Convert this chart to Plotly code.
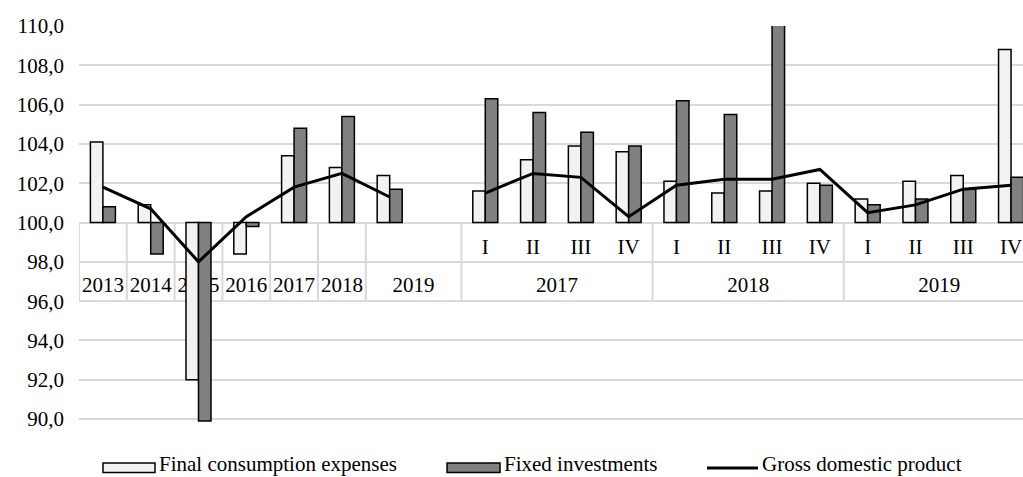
import plotly.graph_objects as go

# Annual data (previous year = 100)
years = ["2013", "2014", "2015", "2016", "2017", "2018", "2019"]
fce_year = [104.1, 100.9, 92.0, 98.4, 103.4, 102.8, 102.4]
inv_year = [100.8, 98.4, 89.9, 99.8, 104.8, 105.4, 101.7]
gdp_year = [101.8, 100.7, 98.0, 100.3, 101.8, 102.5, 101.3]

# Quarterly data (same quarter of previous year = 100)
quarters = ["I", "II", "III", "IV"]
q_years = ["2017", "2018", "2019"]
fce_q = [101.6, 103.2, 103.9, 103.6, 102.1, 101.5, 101.6, 102.0, 101.2, 102.1, 102.4, 108.8]
inv_q = [106.3, 105.6, 104.6, 103.9, 106.2, 105.5, 111.5, 101.9, 100.9, 101.2, 101.7, 102.3]
gdp_q = [101.5, 102.5, 102.3, 100.3, 101.9, 102.2, 102.2, 102.7, 100.5, 100.9, 101.7, 101.9]

BASE = 100
FONT = "Liberation Serif"
GRID = "#d9d9d9"

# category ids: annual, one empty slot, then quarters
cats = years + ["2019 "] + [y + "-" + q for y in q_years for q in quarters]

# groups for the two-row label table (label, first index, last index)
groups = []
for i, y in enumerate(years):
    groups.append((y, i, i))
groups[-1] = ("2019", len(years) - 1, len(years))  # 2019 spans the empty slot
start = len(years) + 1
for k, y in enumerate(q_years):
    groups.append((y, start + 4 * k, start + 4 * k + 3))

fce = [v - BASE for v in fce_year] + [None] + [v - BASE for v in fce_q]
inv = [v - BASE for v in inv_year] + [None] + [v - BASE for v in inv_q]
gdp = gdp_year + [None] + gdp_q

fig = go.Figure()
fig.add_trace(go.Bar(x=cats, y=fce, base=BASE, name="Final consumption expenses",
                     marker=dict(color="#f2f2f2", line=dict(color="black", width=1.5))))
fig.add_trace(go.Bar(x=cats, y=inv, base=BASE, name="Fixed investments",
                     marker=dict(color="#808080", line=dict(color="black", width=1.5))))
fig.add_trace(go.Scatter(x=cats, y=gdp, name="Gross domestic product", mode="lines",
                         line=dict(color="black", width=3), connectgaps=False))

shapes = []
# vertical dividers of the label table
edges = sorted({g[1] - 0.5 for g in groups} | {g[2] + 0.5 for g in groups})
for e in edges:
    shapes.append(dict(type="line", xref="x", yref="y", x0=e, x1=e, y0=96, y1=100,
                       line=dict(color=GRID, width=2), layer="below"))

lab_font = dict(family=FONT, size=21, color="black")
# quarter labels (upper row)
for i, c in enumerate(cats):
    if "-" in c:
        shapes.append(dict(type="line", xref="x", yref="y", x0=i - 0.4, x1=i + 0.4,
                           y0=98.86, y1=98.86, line=dict(width=0, color="rgba(0,0,0,0)"),
                           layer="below",
                           label=dict(text=c.split("-")[1], font=lab_font,
                                      textposition="middle", yanchor="middle")))
# year labels (lower row)
for lab, a, b in groups:
    mid = (a + b) / 2
    shapes.append(dict(type="line", xref="x", yref="y", x0=mid - 0.4, x1=mid + 0.4,
                       y0=96.9, y1=96.9, line=dict(width=0, color="rgba(0,0,0,0)"),
                       layer="below",
                       label=dict(text=lab, font=lab_font,
                                  textposition="middle", yanchor="middle")))

# hand-made legend (wide swatches like the original)
W, H, L, T = 1023, 477, 79, 26
PW, PH = W - L, 399


def px(xp):
    return (xp - L) / PW


def py(yp):
    return (T + PH - yp) / PH


annotations = []
legend_items = [
    ("Final consumption expenses", "rect", "#f2f2f2", 103, 155),
    ("Fixed investments", "rect", "#808080", 447, 500),
    ("Gross domestic product", "line", "black", 707, 758),
]
for name, kind, col, x0, x1 in legend_items:
    if kind == "rect":
        shapes.append(dict(type="rect", xref="paper", yref="paper",
                           x0=px(x0), x1=px(x1), y0=py(472.5), y1=py(463),
                           fillcolor=col, line=dict(color="black", width=1.5)))
    else:
        shapes.append(dict(type="line", xref="paper", yref="paper",
                           x0=px(x0), x1=px(x1), y0=py(468), y1=py(468),
                           line=dict(color=col, width=3)))
    annotations.append(dict(text=name, xref="paper", yref="paper", x=px(x1 + 3), y=py(476.5),
                            xanchor="left", yanchor="bottom", showarrow=False,
                            borderpad=0,
                            font=dict(family=FONT, size=21, color="black")))

fig.update_layout(
    width=W, height=H,
    margin=dict(l=L, r=0, t=T, b=H - T - PH),
    paper_bgcolor="white", plot_bgcolor="white",
    barmode="group", bargap=0.477, bargroupgap=0,
    separators=", ",
    showlegend=False,
    font=dict(family=FONT, size=21, color="black"),
    shapes=shapes, annotations=annotations,
)
fig.update_xaxes(type="category", range=[-0.5, len(cats) - 0.75], showticklabels=False,
                 showgrid=False, zeroline=False, showline=False, ticks="")
fig.update_yaxes(range=[89.7, 110], tickvals=list(range(90, 111, 2)), tickformat=".1f",
                 showgrid=True, gridcolor=GRID, gridwidth=2, zeroline=False,
                 showline=False, ticks="", ticklabelstandoff=14,
                 tickfont=dict(family=FONT, size=21, color="black"))

# drop the browser's default 8px body margin so the figure sits at the window corner
fig.write_html("out.html", config={"displayModeBar": False},
               post_script="document.body.style.margin='0';")
